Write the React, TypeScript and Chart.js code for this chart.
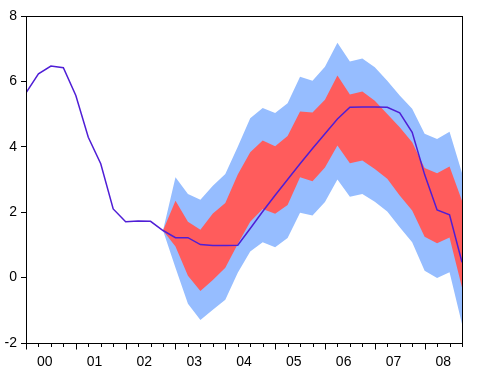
import React, { useEffect, useRef } from "react";
import { Chart, registerables } from "chart.js";

Chart.register(...registerables);

// quarterly observations 2000Q1 .. 2008Q4
const YEAR_LABELS = ["00", "01", "02", "03", "04", "05", "06", "07", "08"];

const ACTUAL = [
  5.65, 6.23, 6.47, 6.42, 5.57, 4.29, 3.48, 2.1, 1.71, 1.73, 1.72, 1.44,
  1.22, 1.22, 1.01, 0.98, 0.98, 0.99, 1.5, 2.02, 2.52, 3.0, 3.48, 3.95,
  4.4, 4.85, 5.21, 5.22, 5.22, 5.21, 5.04, 4.44, 3.15, 2.07, 1.92, 0.47,
];

// fan bands start at 2002Q4 (index 11)
const BAND_START = 11;
const OUTER_UPPER = [
  1.44, 3.07, 2.56, 2.38, 2.81, 3.17, 4.0, 4.87, 5.19, 5.03, 5.33, 6.14,
  6.02, 6.45, 7.18, 6.61, 6.7, 6.43, 6.02, 5.57, 5.16, 4.4, 4.24, 4.46, 3.2,
];
const INNER_UPPER = [
  1.44, 2.35, 1.71, 1.46, 1.96, 2.28, 3.15, 3.83, 4.19, 4.02, 4.33, 5.08,
  5.05, 5.44, 6.18, 5.6, 5.69, 5.41, 5.0, 4.6, 4.14, 3.35, 3.19, 3.4, 2.35,
];
const INNER_LOWER = [
  1.44, 0.95, 0.06, -0.41, -0.07, 0.3, 1.03, 1.71, 2.1, 1.95, 2.22, 3.07,
  2.95, 3.37, 4.04, 3.5, 3.58, 3.32, 3.02, 2.51, 2.05, 1.25, 1.05, 1.23, -0.3,
];
const OUTER_LOWER = [
  1.44, 0.3, -0.8, -1.3, -0.98, -0.68, 0.15, 0.8, 1.08, 0.93, 1.21, 1.98,
  1.9, 2.31, 3.0, 2.47, 2.56, 2.32, 2.02, 1.54, 1.08, 0.21, -0.01, 0.16, -1.42,
];

const Y_TICKS = [-2, 0, 2, 4, 6, 8];

const toPoints = (arr: number[], start: number) =>
  arr.map((y, i) => ({ x: start + i, y }));

const BLUE = "rgb(150,189,255)";
const RED = "rgb(255,92,92)";
const LINE = "#4f1ed6";
const FONT = { family: "'Liberation Sans', Arial, sans-serif", size: 14 };

const framePlugin = {
  id: "frame",
  afterDraw(chart: any) {
    const { ctx, chartArea } = chart;
    const xs = chart.scales.x;
    ctx.save();
    ctx.strokeStyle = "#000";
    ctx.lineWidth = 1;
    ctx.strokeRect(
      Math.round(chartArea.left) + 0.5,
      Math.round(chartArea.top) + 0.5,
      Math.round(chartArea.right - chartArea.left),
      Math.round(chartArea.bottom - chartArea.top)
    );
    const n = ACTUAL.length;
    const b = Math.round(chartArea.bottom) + 0.5;
    ctx.beginPath();
    for (let i = 0; i < n; i++) {
      const px = Math.round(xs.getPixelForValue(i)) + 0.5;
      const len = i % 4 === 0 ? 6 : 3.5;
      ctx.moveTo(px, b);
      ctx.lineTo(px, b + len);
    }
    ctx.stroke();
    ctx.restore();
  },
};

export default function App() {
  const ref = useRef<HTMLCanvasElement | null>(null);

  useEffect(() => {
    if (!ref.current) return;
    const chart = new Chart(ref.current, {
      type: "line",
      data: {
        datasets: [
          {
            data: toPoints(OUTER_UPPER, BAND_START),
            borderWidth: 0,
            borderColor: BLUE,
            backgroundColor: BLUE,
            pointRadius: 0,
            fill: { target: 1 },
            order: 3,
          },
          {
            data: toPoints(OUTER_LOWER, BAND_START),
            borderWidth: 0,
            borderColor: BLUE,
            pointRadius: 0,
            fill: false,
            order: 3,
          },
          {
            data: toPoints(INNER_UPPER, BAND_START),
            borderWidth: 0,
            borderColor: RED,
            backgroundColor: RED,
            pointRadius: 0,
            fill: { target: 3 },
            order: 2,
          },
          {
            data: toPoints(INNER_LOWER, BAND_START),
            borderWidth: 0,
            borderColor: RED,
            pointRadius: 0,
            fill: false,
            order: 2,
          },
          {
            data: toPoints(ACTUAL, 0),
            borderWidth: 1.5,
            borderColor: LINE,
            pointRadius: 0,
            fill: false,
            order: 1,
          },
        ],
      },
      options: {
        animation: false,
        responsive: false,
        layout: { padding: { top: 16, right: 16, left: 0, bottom: 0 } },
        plugins: {
          legend: { display: false },
          tooltip: { enabled: false },
        },
        scales: {
          x: {
            type: "linear",
            min: 0,
            max: ACTUAL.length - 1,
            afterBuildTicks: (scale: any) => {
              scale.ticks = YEAR_LABELS.map((_, k) => ({ value: 4 * k + 1.5 }));
            },
            afterFit: (scale: any) => {
              scale.height = 39;
            },
            grid: { display: false },
            border: { display: true, color: "#000" },
            ticks: {
              autoSkip: false,
              maxRotation: 0,
              padding: 3,
              color: "#000",
              font: FONT,
              callback: (v: any) => YEAR_LABELS[Math.round((Number(v) - 1.5) / 4)] ?? "",
            },
          },
          y: {
            min: -2,
            max: 8,
            afterBuildTicks: (scale: any) => {
              scale.ticks = Y_TICKS.map((v) => ({ value: v }));
            },
            afterFit: (scale: any) => {
              scale.width = 26;
            },
            grid: {
              drawOnChartArea: false,
              drawTicks: true,
              tickLength: 5,
              tickColor: "#000",
              color: "#000",
            },
            border: { display: true, color: "#000" },
            ticks: { color: "#000", font: FONT, padding: 4 },
          },
        },
      },
      plugins: [framePlugin],
    } as any);
    return () => chart.destroy();
  }, []);

  return (
    <div style={{ position: "absolute", left: 0, top: 0, width: 478, height: 382, background: "#fff" }}>
      <canvas ref={ref} width={478} height={382} />
    </div>
  );
}
